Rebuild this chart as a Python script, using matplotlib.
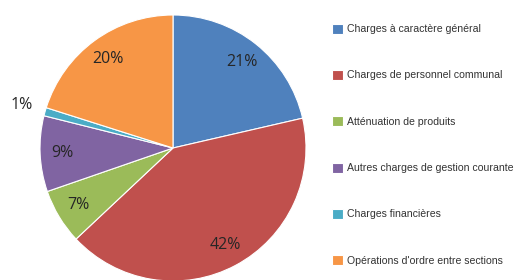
import numpy as np
import matplotlib
matplotlib.use("Agg")
import matplotlib.pyplot as plt

# categories and shares (percent)
categories = ["Charges à caractère général", "Charges de personnel communal",
              "Atténuation de produits", "Autres charges de gestion courante",
              "Charges financières", "Opérations d'ordre entre sections"]
shares = [21.4, 41.6, 6.7, 9.2, 1.0, 20.1]
colors = ["#4F81BD", "#C0504D", "#9BBB59", "#8064A2", "#4BACC6", "#F79646"]

fig = plt.figure(figsize=(5.24, 2.8), dpi=100)
# pie centre approx (173,148) px, radius ~133 px
ax = fig.add_axes([(173 - 133) / 524, (280 - 148 - 133) / 280, 266 / 524, 266 / 280])

wedges, texts, autotexts = ax.pie(
    shares, colors=colors, startangle=90, counterclock=False,
    autopct="%.0f%%", pctdistance=0.83,
    wedgeprops=dict(edgecolor="white", linewidth=0.8),
    textprops=dict(fontsize=11.5, color="#262626", family="Open Sans"))

# the tiny slice gets its label outside
w = wedges[4]
ang = np.deg2rad((w.theta1 + w.theta2) / 2)
autotexts[4].set_position((1.18 * np.cos(ang), 1.18 * np.sin(ang)))

ax.set_xlim(-1, 1)
ax.set_ylim(-1, 1)
ax.set_aspect("equal")

leg = fig.legend(wedges, categories, loc="upper left",
                 bbox_to_anchor=(322 / 524, 1 - 14 / 280),
                 frameon=False, handlelength=1.1, handleheight=1.1,
                 handletextpad=0.4, labelspacing=3.38,
                 prop=dict(family="Liberation Sans", size=7.6))
for t in leg.get_texts():
    t.set_color("#333333")

fig.savefig("out.png", dpi=100)
